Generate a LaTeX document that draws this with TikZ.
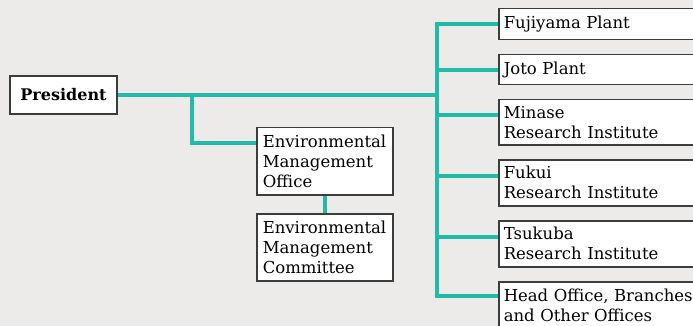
\documentclass[tikz,border=0pt]{standalone}
\usepackage{fontspec}
\setmainfont{DejaVu Serif}
\definecolor{bggray}{HTML}{EDEBE9}
\definecolor{boxgray}{HTML}{3C3C3C}
\definecolor{linkteal}{HTML}{22BBA8}
\begin{document}
\begin{tikzpicture}
  [x=1pt,y=-1pt,
   box/.style={rectangle,draw=boxgray,line width=1.5pt,fill=white,align=left,
     anchor=north west,inner xsep=5pt,inner ysep=0pt,
     font=\fontsize{16.5}{20}\selectfont},
   unit/.style={box,text width=190pt},
   env/.style={box,text width=124pt,inner xsep=6pt,minimum height=67pt},
   link/.style={draw=linkteal,line width=4pt}]
  \useasboundingbox[fill=bggray] (0,0) rectangle (693,326);

  \node (pres)[box,anchor=center,align=center,minimum width=107pt,minimum height=38pt,
    font=\fontsize{16}{20}\selectfont\bfseries] at (63.5,95) {President};
  \node (office)[env] at (256,127) {Environmental\\Management\\Office};
  \node (committee)[env] at (256,213) {Environmental\\Management\\Committee};

  \node (fuji)[unit,minimum height=31pt] at (498,8) {Fujiyama Plant};
  \node (joto)[unit,minimum height=30pt] at (498,54) {Joto Plant};
  \node (minase)[unit,minimum height=45pt] at (498,99) {Minase\\Research Institute};
  \node (fukui)[unit,minimum height=46pt] at (498,159) {Fukui\\Research Institute};
  \node (tsukuba)[unit,minimum height=46pt] at (498,220) {Tsukuba\\Research Institute};
  \node (head)[unit,minimum height=48pt] at (498,281) {Head Office, Branches\\and Other Offices};

  \coordinate (hub) at (437,95);
  \coordinate (split) at (192,95);
  \coordinate (office-in) at ([yshift=18.5pt]office.west);
  \foreach \unit/\dy in {fuji/0,joto/0,minase/7.5,fukui/7,tsukuba/7,head/10}
    \coordinate (\unit-in) at ([yshift=\dy pt]\unit.west);

  \draw[link] (pres) -- (hub);
  \draw[link] (split) |- (office-in);
  \draw[link] (office) -- (committee);
  \draw[link] (fuji-in) -| (hub |- head-in) -- (head-in);
  \foreach \unit in {joto,minase,fukui,tsukuba}
    \draw[link] (hub |- \unit-in) -- (\unit-in);
\end{tikzpicture}
\end{document}
